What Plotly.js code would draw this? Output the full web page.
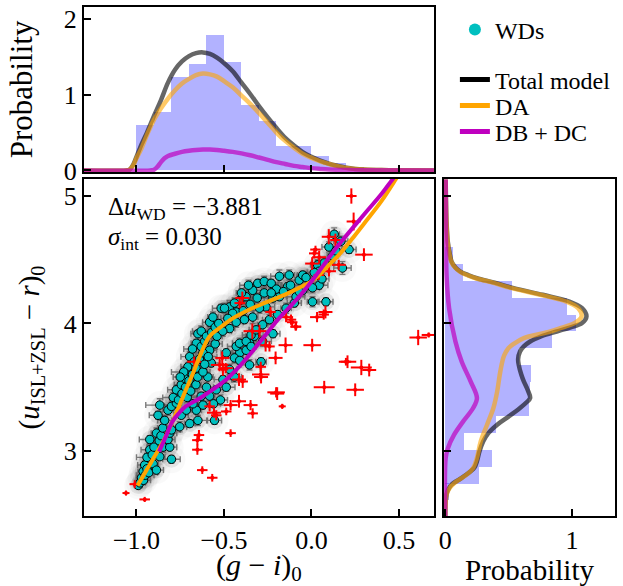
<!DOCTYPE html>
<html>
<head>
<meta charset="utf-8">
<script src="https://cdn.plot.ly/plotly-3.0.1.min.js"></script>
<style>html,body{margin:0;padding:0;background:#fff;}#chart{width:623px;height:586px;}</style>
</head>
<body>
<div id="chart"></div>
<script>
// ---------- Data ----------
// Top histogram of (g-i)_0
const histGICenters = [-0.95,-0.85,-0.75,-0.65,-0.55,-0.45,-0.35,-0.25,-0.15,-0.05,0.05,0.15,0.25,0.35];
const histGIValues  = [0.60,0.77,1.24,1.41,1.79,1.43,0.86,0.65,0.32,0.32,0.185,0.10,0.04,0.02];
const histGIBinWidth = 0.1;

// Top panel model curves
const topX      = [-1.30,-1.06,-1.04,-1.02,-1.00,-0.97,-0.94,-0.90,-0.86,-0.82,-0.78,-0.74,-0.70,-0.66,-0.62,-0.58,-0.54,-0.50,-0.45,-0.40,-0.35,-0.30,-0.25,-0.20,-0.15,-0.10,-0.05,0.00,0.05,0.10,0.15,0.20,0.25,0.30,0.40,0.50,0.70];
const topTotal  = [0,0,0.01,0.07,0.18,0.35,0.50,0.72,0.93,1.16,1.33,1.44,1.51,1.55,1.56,1.54,1.49,1.42,1.31,1.16,1.01,0.85,0.70,0.56,0.43,0.33,0.24,0.18,0.13,0.09,0.06,0.035,0.02,0.012,0.004,0.001,0];
const topDA     = [0,0,0.01,0.06,0.16,0.30,0.47,0.67,0.82,0.95,1.06,1.15,1.21,1.26,1.28,1.27,1.24,1.18,1.10,0.99,0.88,0.76,0.63,0.50,0.39,0.30,0.22,0.165,0.12,0.085,0.055,0.033,0.02,0.012,0.004,0.001,0];
const topDBX    = [-1.30,-0.92,-0.90,-0.88,-0.86,-0.84,-0.82,-0.78,-0.74,-0.70,-0.66,-0.62,-0.58,-0.54,-0.50,-0.45,-0.40,-0.35,-0.30,-0.25,-0.20,-0.15,-0.10,-0.05,0.00,0.05,0.10,0.20,0.30,0.70];
const topDB     = [0,0,0.01,0.05,0.11,0.16,0.19,0.22,0.245,0.26,0.27,0.275,0.275,0.27,0.26,0.245,0.225,0.20,0.17,0.14,0.11,0.085,0.06,0.045,0.03,0.02,0.012,0.005,0.001,0];

// Right histogram of (u-r)_0
const histURCenters = [4.534,4.401,4.269,4.136,4.004,3.871,3.739,3.606,3.474,3.341,3.209,3.076,2.944,2.811,2.679];
const histURValues  = [0.06,0.14,0.53,0.96,1.03,0.84,0.58,0.68,0.67,0.66,0.40,0.15,0.37,0.27,0.03];
const histURBinWidth = 0.1325;

// Right panel model curves (y = colour, x = probability)
const rightTotY = [5.13,5.00,4.80,4.642,4.55,4.486,4.44,4.407,4.38,4.355,4.32,4.277,4.225,4.172,4.12,4.055,4.003,3.97,3.937,3.90,3.859,3.82,3.781,3.72,3.676,3.60,3.546,3.48,3.415,3.38,3.337,3.27,3.206,3.14,3.076,2.997,2.919,2.87,2.841,2.789,2.736,2.70,2.658,2.60,2.49];
const rightTot  = [0.003,0.005,0.01,0.02,0.035,0.05,0.08,0.12,0.18,0.25,0.39,0.54,0.77,0.98,1.08,1.115,1.08,0.99,0.88,0.76,0.67,0.62,0.59,0.575,0.58,0.60,0.62,0.65,0.67,0.64,0.59,0.50,0.41,0.34,0.30,0.27,0.25,0.23,0.20,0.13,0.05,0.025,0.01,0.003,0];
const rightDAY  = [5.13,5.00,4.80,4.642,4.55,4.486,4.44,4.407,4.38,4.355,4.32,4.277,4.225,4.172,4.12,4.055,4.003,3.97,3.937,3.885,3.84,3.807,3.75,3.70,3.598,3.467,3.337,3.206,3.076,2.945,2.867,2.815,2.762,2.71,2.658,2.60,2.49];
const rightDA   = [0.002,0.004,0.009,0.018,0.032,0.047,0.076,0.115,0.17,0.24,0.375,0.525,0.75,0.955,1.05,1.076,1.02,0.93,0.83,0.62,0.54,0.50,0.465,0.45,0.43,0.41,0.38,0.33,0.28,0.25,0.22,0.17,0.09,0.035,0.01,0.003,0];
const rightDBY  = [5.13,4.80,4.38,4.12,3.859,3.70,3.546,3.415,3.337,3.23,3.128,3.02,2.945,2.49];
const rightDB   = [0.003,0.005,0.01,0.03,0.08,0.13,0.20,0.25,0.22,0.14,0.07,0.02,0.003,0];

// Main panel model curves
const daLineX = [-0.994,-0.947,-0.90,-0.85,-0.79,-0.734,-0.677,-0.63,-0.582,-0.525,-0.45,-0.354,-0.26,-0.145,-0.069,0.0,0.044,0.10,0.158,0.23,0.31,0.40,0.48,0.49];
const daLineY = [2.73,2.84,2.95,3.07,3.243,3.426,3.61,3.77,3.90,3.965,4.04,4.11,4.165,4.23,4.28,4.33,4.38,4.46,4.54,4.66,4.80,4.96,5.128,5.15];
const dbLineX = [-0.871,-0.83,-0.795,-0.755,-0.719,-0.643,-0.567,-0.49,-0.414,-0.338,-0.262,-0.186,-0.11,-0.034,0.044,0.118,0.158,0.23,0.31,0.40,0.462,0.47];
const dbLineY = [2.995,3.12,3.23,3.30,3.35,3.41,3.48,3.557,3.66,3.78,3.91,4.04,4.15,4.27,4.41,4.55,4.62,4.74,4.87,5.015,5.128,5.14];

// WDs (cyan points with error bars)
const wdX = [
-0.99,-0.98,-0.971,-0.96,-0.962,-0.95,-0.953,-0.94,-0.93,-0.905,
-0.886,-0.867,-0.924,-0.94,-0.91,-0.90,-0.848,-0.80,-0.81,-0.924,
-0.886,-0.87,-0.82,-0.86,-0.81,-0.80,-0.85,-0.839,-0.753,-0.696,
-0.877,-0.82,-0.744,-0.658,-0.649,-0.554,-0.867,-0.80,-0.772,-0.715,
-0.677,-0.79,-0.772,-0.744,-0.725,-0.706,-0.696,-0.658,-0.649,-0.63,
-0.582,-0.563,-0.516,-0.468,-0.43,-0.582,-0.573,-0.592,-0.60,-0.63,
-0.76,-0.74,-0.72,-0.70,-0.68,-0.66,-0.67,-0.64,-0.62,-0.63,
-0.61,-0.60,-0.57,-0.55,-0.53,-0.71,-0.69,-0.66,-0.65,-0.62,
-0.61,-0.59,-0.55,-0.54,-0.73,-0.68,-0.75,-0.41,-0.44,-0.373,
-0.354,-0.326,-0.288,-0.468,-0.506,-0.544,-0.582,-0.487,-0.44,-0.487,
-0.43,-0.411,-0.373,-0.345,-0.316,-0.279,-0.24,-0.193,-0.145,-0.098,
-0.354,-0.41,-0.345,-0.279,-0.22,-0.52,-0.62,-0.56,-0.497,-0.45,
-0.41,-0.374,-0.336,-0.307,-0.27,-0.23,-0.183,-0.127,-0.136,-0.07,
-0.041,-0.05,-0.088,-0.183,-0.22,-0.26,-0.297,-0.336,-0.383,-0.43,
-0.468,-0.507,-0.478,-0.39,-0.35,-0.31,-0.27,-0.20,-0.16,-0.12,
-0.44,-0.40,-0.36,-0.23,0.035,0.083,0.006,0.083,0.044,-0.013,
0.13,0.168,0.073,0.12,0.215,0.177,0.016,-0.05,-0.031,0.044,
0.006,-0.07,0.10,0.14,0.06];
const wdY = [
2.73,2.75,2.79,2.77,2.84,2.81,2.89,2.86,2.83,2.90,
2.85,2.955,3.01,2.95,2.97,3.03,3.03,2.935,3.03,3.09,
3.14,3.08,3.09,3.12,3.14,3.165,3.18,3.24,3.19,3.215,
3.28,3.32,3.28,3.32,3.24,3.24,3.36,3.35,3.375,3.32,
3.37,3.42,3.48,3.52,3.57,3.66,3.74,3.845,3.92,3.94,
4.01,4.05,4.12,4.13,4.09,3.79,3.69,3.58,3.50,3.43,
3.40,3.45,3.50,3.55,3.60,3.65,3.70,3.72,3.77,3.82,
3.86,3.90,3.93,3.97,4.00,3.42,3.47,3.52,3.58,3.62,
3.68,3.74,3.84,3.90,3.62,3.80,3.58,3.77,3.73,3.79,
3.845,3.90,3.70,3.64,3.56,3.48,3.43,3.50,3.58,3.77,
3.82,3.845,3.86,3.91,3.95,3.99,4.03,4.07,4.12,4.16,
3.675,3.71,3.82,3.86,3.92,3.40,3.36,3.37,4.12,4.08,
4.18,4.21,4.26,4.315,4.33,4.315,4.37,4.38,4.29,4.34,
4.37,4.26,4.21,4.21,4.20,4.13,4.12,4.05,4.03,4.01,
3.96,3.94,4.04,4.10,4.15,4.20,4.24,4.27,4.25,4.30,
4.16,4.24,4.30,4.24,4.46,4.47,4.17,4.17,4.41,4.30,
4.70,4.645,4.475,4.53,4.58,4.435,4.40,4.38,4.36,4.30,
4.28,4.25,4.60,4.57,4.35];
const wdXerr = [
0.02,0.03,0.03,0.04,0.03,0.05,0.04,0.03,0.05,0.03,
0.04,0.03,0.05,0.06,0.03,0.04,0.03,0.05,0.04,0.06,
0.03,0.05,0.04,0.03,0.04,0.05,0.03,0.04,0.04,0.03,
0.05,0.03,0.04,0.03,0.05,0.04,0.08,0.04,0.03,0.04,
0.03,0.06,0.05,0.04,0.03,0.04,0.05,0.03,0.04,0.05,
0.04,0.03,0.05,0.04,0.03,0.04,0.05,0.03,0.04,0.06,
0.05,0.04,0.06,0.03,0.05,0.04,0.03,0.05,0.04,0.03,
0.04,0.05,0.03,0.04,0.05,0.06,0.04,0.03,0.05,0.04,
0.03,0.05,0.04,0.03,0.07,0.05,0.04,0.04,0.05,0.03,
0.04,0.05,0.03,0.04,0.05,0.04,0.03,0.05,0.04,0.03,
0.05,0.04,0.03,0.05,0.04,0.03,0.04,0.05,0.03,0.04,
0.05,0.04,0.03,0.05,0.04,0.04,0.05,0.04,0.03,0.05,
0.04,0.03,0.05,0.04,0.03,0.04,0.05,0.03,0.04,0.05,
0.04,0.03,0.05,0.04,0.03,0.05,0.04,0.03,0.05,0.04,
0.03,0.05,0.04,0.06,0.03,0.04,0.05,0.03,0.04,0.05,
0.04,0.03,0.05,0.04,0.04,0.05,0.03,0.04,0.03,0.04,
0.03,0.04,0.05,0.03,0.04,0.05,0.04,0.03,0.04,0.05,
0.04,0.03,0.04,0.03,0.04];
const wdYerr = [
0.02,0.03,0.02,0.03,0.03,0.02,0.03,0.04,0.02,0.03,
0.03,0.02,0.04,0.03,0.02,0.03,0.04,0.03,0.02,0.03,
0.04,0.03,0.02,0.03,0.04,0.03,0.02,0.03,0.04,0.03,
0.03,0.04,0.02,0.03,0.04,0.03,0.05,0.03,0.04,0.02,
0.03,0.04,0.03,0.02,0.04,0.03,0.04,0.03,0.02,0.04,
0.03,0.04,0.03,0.05,0.03,0.04,0.03,0.02,0.04,0.03,
0.04,0.03,0.02,0.04,0.03,0.04,0.03,0.02,0.04,0.03,
0.04,0.03,0.02,0.04,0.03,0.04,0.03,0.02,0.04,0.03,
0.04,0.03,0.04,0.03,0.04,0.03,0.02,0.03,0.04,0.03,
0.02,0.04,0.03,0.04,0.03,0.02,0.04,0.03,0.04,0.03,
0.02,0.04,0.03,0.04,0.03,0.02,0.04,0.03,0.04,0.03,
0.04,0.03,0.02,0.04,0.03,0.04,0.03,0.02,0.04,0.05,
0.03,0.04,0.05,0.03,0.04,0.03,0.05,0.04,0.03,0.04,
0.03,0.04,0.05,0.03,0.04,0.03,0.04,0.05,0.03,0.04,
0.03,0.04,0.03,0.05,0.04,0.03,0.04,0.03,0.04,0.03,
0.04,0.03,0.04,0.03,0.04,0.03,0.04,0.03,0.04,0.03,
0.05,0.04,0.03,0.04,0.03,0.05,0.04,0.03,0.04,0.03,
0.04,0.03,0.04,0.03,0.04];

// Other objects (red crosses)
const redX = [0.228,0.241,0.099,0.137,0.023,0.30,0.004,0.156,0.042,0.10,0.044,0.016,-0.395,-0.41,-0.234,-0.11,-0.091,0.08,0.032,0.07,
-0.338,-0.297,-0.262,-0.148,0.004,-0.145,-0.117,0.61,0.67,-0.205,-0.51,-0.525,-0.49,-0.506,-0.414,-0.393,-0.29,-0.29,-0.67,0.206,
0.285,0.33,0.197,-0.196,0.073,0.25,-0.414,-0.462,-0.348,-0.336,-0.167,-0.557,-0.544,-0.487,-0.582,-0.202,-0.462,-0.643,-0.652,-0.652,
-0.624,-0.567,-1.06,-0.953,-1.01,-0.288,-0.24,-0.088];
const redY = [5.0,4.80,4.68,4.655,4.58,4.54,4.47,4.46,4.38,4.41,4.52,4.55,4.20,4.16,4.09,4.01,3.975,4.09,4.05,4.07,
3.94,3.94,3.83,3.83,3.83,4.05,4.03,3.89,3.91,3.73,3.73,3.675,3.65,3.64,3.56,3.545,3.60,3.66,3.70,3.70,
3.655,3.635,3.70,3.45,3.50,3.48,3.39,3.36,3.36,3.295,3.35,3.30,3.28,3.31,3.35,3.46,3.14,3.125,3.085,3.01,
2.85,2.79,2.67,2.62,2.74,3.58,3.82,3.975];
const redXerr = [0.03,0.04,0.04,0.03,0.03,0.05,0.04,0.04,0.03,0.04,0.04,0.03,0.04,0.03,0.03,0.03,0.03,0.04,0.04,0.03,
0.05,0.04,0.03,0.04,0.05,0.04,0.03,0.05,0.04,0.04,0.04,0.05,0.04,0.03,0.04,0.03,0.05,0.03,0.04,0.05,
0.06,0.04,0.03,0.04,0.06,0.05,0.04,0.04,0.04,0.03,0.02,0.04,0.03,0.03,0.03,0.05,0.03,0.03,0.03,0.03,
0.03,0.03,0.02,0.03,0.03,0.04,0.03,0.03];
const redYerr = [0.06,0.07,0.06,0.05,0.03,0.05,0.05,0.04,0.04,0.04,0.05,0.04,0.05,0.04,0.04,0.03,0.03,0.05,0.04,0.04,
0.06,0.05,0.05,0.06,0.05,0.04,0.04,0.06,0.02,0.05,0.05,0.05,0.04,0.05,0.05,0.05,0.05,0.04,0.04,0.05,
0.06,0.05,0.03,0.05,0.05,0.05,0.05,0.04,0.04,0.04,0.02,0.04,0.04,0.03,0.04,0.04,0.03,0.04,0.04,0.04,
0.03,0.03,0.02,0.02,0.03,0.05,0.04,0.03];

const xTickVals = [-1.0,-0.5,0.0,0.5];
const xTickText = ['\u22121.0','\u22120.5','0.0','0.5'];

// ---------- Styles ----------
const FONT = '"Liberation Serif", "DejaVu Serif", serif';
const BLUE_HIST = 'rgba(0,0,255,0.3)';
const GREY = 'rgba(0,0,0,0.6)';
const ORANGE_A = 'rgba(255,165,0,0.6)';
const MAG_A = 'rgba(191,0,191,0.7)';

const traces = [
  // top histogram
  {type:'bar', x:histGICenters, y:histGIValues, width:histGIBinWidth, marker:{color:BLUE_HIST, line:{width:0}}, xaxis:'x2', yaxis:'y2', showlegend:false, hoverinfo:'skip'},
  {type:'scatter', mode:'lines', x:topX, y:topTotal, line:{color:GREY, width:4.5, shape:'spline'}, xaxis:'x2', yaxis:'y2', showlegend:false},
  {type:'scatter', mode:'lines', x:topX, y:topDA, line:{color:ORANGE_A, width:4.5, shape:'spline'}, xaxis:'x2', yaxis:'y2', showlegend:false},
  {type:'scatter', mode:'lines', x:topDBX, y:topDB, line:{color:MAG_A, width:4.5, shape:'spline'}, xaxis:'x2', yaxis:'y2', showlegend:false},
  // right histogram
  {type:'bar', orientation:'h', y:histURCenters, x:histURValues, width:histURBinWidth, marker:{color:BLUE_HIST, line:{width:0}}, xaxis:'x3', yaxis:'y3', showlegend:false, hoverinfo:'skip'},
  {type:'scatter', mode:'lines', x:rightTot, y:rightTotY, line:{color:GREY, width:4.5, shape:'spline'}, xaxis:'x3', yaxis:'y3', showlegend:false},
  {type:'scatter', mode:'lines', x:rightDA, y:rightDAY, line:{color:ORANGE_A, width:4.5, shape:'spline'}, xaxis:'x3', yaxis:'y3', showlegend:false},
  {type:'scatter', mode:'lines', x:rightDB, y:rightDBY, line:{color:MAG_A, width:4.5, shape:'spline'}, xaxis:'x3', yaxis:'y3', showlegend:false},
  // main: soft shadow around the WD cloud
  {type:'scatter', mode:'markers', x:wdX, y:wdY, marker:{size:28, color:'rgba(0,0,0,0.025)', line:{width:0}}, xaxis:'x', yaxis:'y', showlegend:false, hoverinfo:'skip'},
  {type:'scatter', mode:'markers', x:wdX, y:wdY, marker:{size:17, color:'rgba(0,0,0,0.08)', line:{width:0}}, xaxis:'x', yaxis:'y', showlegend:false, hoverinfo:'skip'},
  // WDs
  {type:'scatter', mode:'markers', x:wdX, y:wdY,
   error_x:{type:'data', array:wdXerr, color:'rgba(100,100,100,0.85)', thickness:1.4, width:3},
   error_y:{type:'data', array:wdYerr, color:'rgba(100,100,100,0.85)', thickness:1.4, width:3},
   marker:{size:8.5, color:'#00BFBF', line:{color:'#000', width:1}}, xaxis:'x', yaxis:'y', showlegend:false},
  // red crosses
  {type:'scatter', mode:'markers', x:redX, y:redY,
   error_x:{type:'data', array:redXerr, color:'#ff0000', thickness:2, width:0},
   error_y:{type:'data', array:redYerr, color:'#ff0000', thickness:2, width:0},
   marker:{size:4, color:'#ff0000'}, xaxis:'x', yaxis:'y', showlegend:false},
  // model lines
  {type:'scatter', mode:'lines', x:daLineX, y:daLineY, line:{color:'#FFA500', width:4, shape:'spline'}, xaxis:'x', yaxis:'y', showlegend:false},
  {type:'scatter', mode:'lines', x:dbLineX, y:dbLineY, line:{color:'#BF00BF', width:4, shape:'spline'}, xaxis:'x', yaxis:'y', showlegend:false},
  // legend entries
  {type:'scatter', mode:'markers', x:[null], y:[null], name:'WDs', legend:'legend', marker:{size:12, color:'#00BFBF'}, xaxis:'x', yaxis:'y'},
  {type:'scatter', mode:'lines', x:[null], y:[null], name:'Total model', legend:'legend2', line:{color:'#000', width:5}, xaxis:'x', yaxis:'y'},
  {type:'scatter', mode:'lines', x:[null], y:[null], name:'DA', legend:'legend3', line:{color:'#FFA500', width:5}, xaxis:'x', yaxis:'y'},
  {type:'scatter', mode:'lines', x:[null], y:[null], name:'DB + DC', legend:'legend4', line:{color:'#BF00BF', width:5}, xaxis:'x', yaxis:'y'}
];

const axBase = {showline:true, linecolor:'#000', linewidth:2, mirror:true, ticks:'inside', ticklen:7, tickwidth:2, tickcolor:'#000', showgrid:false, zeroline:false, tickfont:{family:FONT, size:26, color:'#000'}};

function leg(yPaper){
  return {x:0.6985, y:yPaper, xanchor:'left', yanchor:'middle', font:{family:FONT, size:24, color:'#000'}, bgcolor:'rgba(0,0,0,0)', itemwidth:30, borderwidth:0};
}

const layout = {
  width:623, height:586,
  margin:{l:84, r:8, t:7, b:70},
  paper_bgcolor:'#fff', plot_bgcolor:'#fff',
  font:{family:FONT, color:'#000'},
  xaxis: Object.assign({}, axBase, {domain:[0,0.659], range:[-1.3,0.7], tickvals:xTickVals, ticktext:xTickText, anchor:'y',
          title:{text:'(<i>g</i> \u2212 <i>i</i>)<sub>0</sub>', font:{family:FONT, size:30, color:'#000'}, standoff:10}}),
  yaxis: Object.assign({}, axBase, {domain:[0,0.662], range:[2.49,5.133], tickvals:[3,4,5], anchor:'x',
          title:{text:'(<i>u</i><sub>ISL+ZSL</sub> \u2212 <i>r</i>)<sub>0</sub>', font:{family:FONT, size:29, color:'#000'}, standoff:16}}),
  xaxis2: Object.assign({}, axBase, {domain:[0,0.659], range:[-1.3,0.7], tickvals:xTickVals, showticklabels:false, anchor:'y2'}),
  yaxis2: Object.assign({}, axBase, {domain:[0.676,1], range:[-0.02,2.16], tickvals:[0,1,2], anchor:'x2',
          title:{text:'Probability', font:{family:FONT, size:31, color:'#000'}, standoff:22}}),
  xaxis3: Object.assign({}, axBase, {domain:[0.678,1], range:[-0.01,1.34], tickvals:[0,1], anchor:'y3',
          title:{text:'Probability', font:{family:FONT, size:29, color:'#000'}, standoff:2}}),
  yaxis3: Object.assign({}, axBase, {domain:[0,0.662], range:[2.49,5.133], tickvals:[3,4,5], showticklabels:false, anchor:'x3'}),
  bargap:0,
  legend: leg(0.9548),
  legend2: leg(0.8566),
  legend3: leg(0.8055),
  legend4: leg(0.7544),
  annotations:[
    {xref:'x', yref:'y', x:-1.175, y:4.90, xanchor:'left', yanchor:'middle', showarrow:false, text:'\u0394<i>u</i><sub>WD</sub> = \u22123.881', font:{family:FONT, size:25, color:'#000'}},
    {xref:'x', yref:'y', x:-1.175, y:4.67, xanchor:'left', yanchor:'middle', showarrow:false, text:'<i>\u03C3</i><sub>int</sub> = 0.030', font:{family:FONT, size:25, color:'#000'}}
  ]
};

Plotly.newPlot('chart', traces, layout, {displayModeBar:false, staticPlot:true});
</script>
</body>
</html>
